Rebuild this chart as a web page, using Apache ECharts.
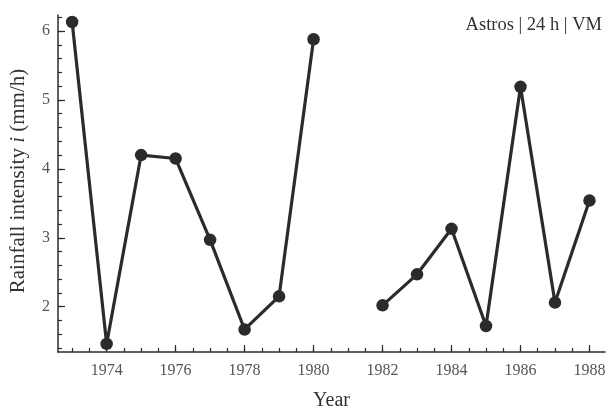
<!DOCTYPE html>
<html>
<head>
<meta charset="utf-8">
<script src="https://cdn.jsdelivr.net/npm/echarts@6/dist/echarts.min.js"></script>
<style>html,body{margin:0;padding:0;background:#fff}#c{width:606px;height:412px}</style>
</head>
<body>
<div id="c"></div>
<script>
// Data
const years = [1973, 1974, 1975, 1976, 1977, 1978, 1979, 1980, 1981, 1982, 1983, 1984, 1985, 1986, 1987, 1988];
const intensity = [6.13, 1.46, 4.20, 4.15, 2.97, 1.67, 2.15, 5.88, null, 2.02, 2.47, 3.13, 1.72, 5.19, 2.06, 3.54];
const xTickLabels = [1974, 1976, 1978, 1980, 1982, 1984, 1986, 1988];
const yTickLabels = [2, 3, 4, 5, 6];
const annotation = 'Astros | 24 h | VM';
const xTitle = 'Year';

const X_MIN = 1972.59, X_MAX = 1988.45;
const Y_MIN = 1.343, Y_MAX = 6.232;

function steps(from, to, step) {
  const out = [];
  for (let v = from; v <= to + 1e-9; v += step) out.push(Math.round(v * 1000) / 1000);
  return out;
}
const xMinor = steps(1973, 1988, 0.5);
const yMinor = steps(1.4, 6.2, 0.2);

const seriesData = years.map((y, i) => [y, intensity[i] === null ? '-' : intensity[i]]);

const ink = '#2b2b2b';
const labelColor = '#555';
const font = 'Liberation Serif';

const chart = echarts.init(document.getElementById('c'), null, {renderer: 'canvas'});
chart.setOption({
  animation: false,
  backgroundColor: '#fff',
  grid: {left: 58, right: 1, top: 15, bottom: 60, containLabel: false, outerBoundsMode: 'none'},
  xAxis: [
    {
      type: 'value', min: X_MIN, max: X_MAX,
      axisLine: {show: true, lineStyle: {color: ink, width: 1.5}},
      axisTick: {show: true, inside: true, length: 7, lineStyle: {color: ink, width: 1.2}, customValues: xTickLabels},
      axisLabel: {show: true, customValues: xTickLabels, color: labelColor, fontFamily: font, fontSize: 16, margin: 11,
                  formatter: v => String(v)},
      splitLine: {show: false},
      name: xTitle, nameLocation: 'middle', nameGap: 39,
      nameTextStyle: {color: '#333', fontFamily: font, fontSize: 20}
    },
    {
      type: 'value', min: X_MIN, max: X_MAX, position: 'bottom',
      axisLine: {show: false},
      axisTick: {show: true, inside: true, length: 4, lineStyle: {color: ink, width: 1.2}, customValues: xMinor},
      axisLabel: {show: false},
      splitLine: {show: false}
    }
  ],
  yAxis: [
    {
      type: 'value', min: Y_MIN, max: Y_MAX,
      axisLine: {show: true, lineStyle: {color: ink, width: 1.5}},
      axisTick: {show: true, inside: true, length: 7, lineStyle: {color: ink, width: 1.2}, customValues: yTickLabels},
      axisLabel: {show: true, customValues: yTickLabels, color: labelColor, fontFamily: font, fontSize: 16, margin: 8,
                  formatter: v => String(v)},
      splitLine: {show: false}
    },
    {
      type: 'value', min: Y_MIN, max: Y_MAX, position: 'left',
      axisLine: {show: false},
      axisTick: {show: true, inside: true, length: 4, lineStyle: {color: ink, width: 1.2}, customValues: yMinor},
      axisLabel: {show: false},
      splitLine: {show: false}
    }
  ],
  graphic: [
    {
      type: 'text', right: 4, top: 16,
      style: {text: annotation, fill: '#333', font: '18.5px "Liberation Serif"'}
    },
    {
      type: 'text', x: 18, y: 181, rotation: Math.PI / 2,
      style: {
        rich: {
          n: {fontFamily: font, fontSize: 21, fill: '#333'},
          it: {fontFamily: font, fontSize: 21, fontStyle: 'italic', fill: '#333'}
        },
        text: '{n|Rainfall intensity }{it|i}{n| (mm/h)}',
        align: 'center', verticalAlign: 'middle'
      }
    }
  ],
  series: [{
    type: 'line',
    data: seriesData,
    connectNulls: false,
    xAxisIndex: 0, yAxisIndex: 0,
    symbol: 'circle', symbolSize: 12.5,
    lineStyle: {color: ink, width: 3.2},
    itemStyle: {color: ink},
    z: 5
  }]
});
</script>
</body>
</html>
